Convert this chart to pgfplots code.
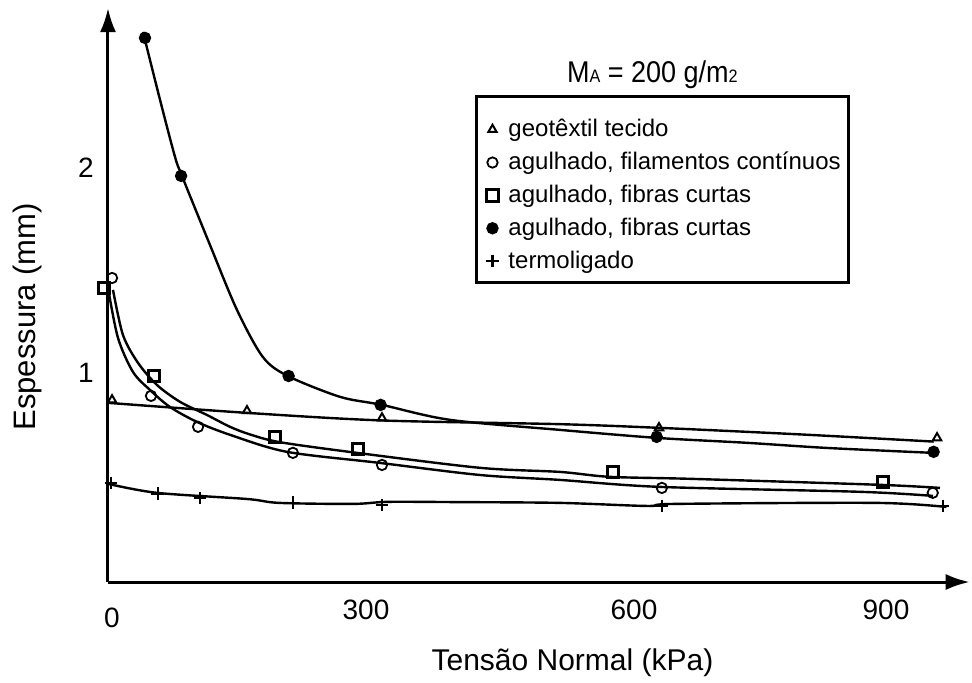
\documentclass[border=0pt]{standalone}
\usepackage{fontspec}
\setmainfont{Liberation Sans}
\usepackage{pgfplots}
\pgfplotsset{compat=1.18}
\usetikzlibrary{arrows.meta}
\begin{document}
\begin{tikzpicture}
\useasboundingbox (-54pt,-50pt) rectangle (432pt,291pt);
\begin{axis}[
  at={(0pt,0pt)}, anchor=south west,
  scale only axis, width=430.86pt, height=287pt,
  xmin=0, xmax=1002, ymin=-0.02, ymax=2.78,
  axis lines=left,
  axis line style={line width=1.5pt, -{Latex[length=12pt,width=8pt]}},
  major tick length=0pt,
  xtick={0,300,600,900},
  xticklabels={\raisebox{-4pt}[\height][\depth]{\kern4pt 0},300,\kern10pt 600,\kern4pt 900},
  ytick={1,2},
  /pgf/number format/assume math mode=true,
  ticklabel style={font=\fontsize{14}{16}\selectfont},
  xticklabel style={anchor=north, inner sep=0pt, yshift=-9pt},
  yticklabel style={anchor=east, inner sep=0pt, xshift=-7pt},
  xlabel={Tensão Normal (kPa)},
  ylabel={Espessura (mm)},
  label style={font=\fontsize{15}{18}\selectfont},
  xlabel style={at={(axis description cs:0.539,-0.141)}, anchor=center},
  ylabel style={at={(axis description cs:-0.094,0.462)}, anchor=center, font=\fontsize{15.5}{18}\selectfont},
  clip=false,
  legend style={at={(axis cs:428,2.317)}, anchor=north west, draw=none, fill=none,
    font=\fontsize{12}{14}\selectfont, inner xsep=2pt, inner ysep=6pt, row sep=2.2pt,
    cells={anchor=west}},
  legend image code/.code={\path[draw=none,fill=none] (-6pt,0pt) (6pt,0pt);
    \draw[mark repeat=2,mark phase=2,#1] plot coordinates {(-1pt,0pt)(0pt,0pt)(1pt,0pt)};},
]
% markers
\addplot[black, only marks, mark=triangle, mark size=2.4pt, line width=1pt]
  coordinates {(4.7,0.868) (161.6,0.815) (318.6,0.780) (640.7,0.732) (964,0.683)};
\addlegendentry{geotêxtil tecido}
\addplot[black, only marks, mark=o, mark size=2.6pt, line width=0.9pt]
  coordinates {(4.7,1.463) (50,0.888) (104.7,0.737) (215,0.610) (318.6,0.551) (644,0.439) (959,0.415)};
\addlegendentry{agulhado, filamentos contínuos}
\addplot[black, only marks, mark=square, mark size=2.8pt, line width=1.5pt]
  coordinates {(-4.7,1.415) (53.5,0.985) (194,0.688) (290.7,0.629) (587,0.517) (901,0.468)};
\addlegendentry{agulhado, fibras curtas}
\addplot[black, only marks, mark=*, mark size=2.7pt, line width=0.8pt]
  coordinates {(43,2.634) (85,1.961) (210,0.985) (317,0.844) (638,0.688) (960,0.615)};
\addlegendentry{agulhado, fibras curtas}
\addplot[black, only marks, mark=+, mark size=3.2pt, line width=1.1pt]
  coordinates {(3.5,0.463) (58,0.410) (107,0.390) (215,0.366) (318.6,0.356) (644,0.351) (971,0.351)};
\addlegendentry{termoligado}
% curves
\addplot[black, line width=1.2pt, smooth, tension=0.5, forget plot]
  coordinates {(0,0.854) (162,0.805) (319,0.768) (525,0.75) (641,0.732) (805,0.70) (960,0.665)};
\addplot[black, line width=1.2pt, smooth, tension=0.5, forget plot]
  coordinates {(0,1.415) (11.6,1.171) (29,1.005) (48.8,0.917) (72,0.834) (103.5,0.761) (141.9,0.698) (208,0.615) (316,0.561) (432.6,0.502) (525.6,0.478) (641.9,0.444) (874.4,0.420) (959.3,0.400)};
\addplot[black, line width=1.2pt, smooth, tension=0.5, forget plot]
  coordinates {(5.8,1.405) (17.4,1.185) (34.9,1.049) (57,0.941) (83.7,0.859) (115,0.795) (141.9,0.737) (165,0.700) (200,0.662) (289.5,0.610) (432.6,0.537) (525.6,0.517) (583.7,0.493) (680,0.483) (897.7,0.454) (967.4,0.439)};
\addplot[black, line width=1.2pt, smooth, tension=0.5, forget plot]
  coordinates {(40.7,2.663) (60.5,2.332) (77.9,2.054) (86,1.961) (118.6,1.624) (150,1.307) (180,1.078) (209,0.985) (270,0.883) (318.6,0.844) (397.7,0.771) (525.6,0.722) (638.4,0.683) (743,0.659) (836,0.634) (959,0.610)};
\addplot[black, line width=1.2pt, smooth, tension=0.5, forget plot]
  coordinates {(0,0.459) (57,0.415) (161.6,0.385) (199,0.366) (285,0.361) (325,0.371) (400,0.37) (525,0.366) (627,0.351) (660,0.361) (893,0.366) (975,0.346)};
\draw[line width=1.5pt] (axis cs:428,2.346) rectangle (axis cs:860.5,1.439);
\node[font=\fontsize{15}{18}\selectfont, xscale=0.9] at (axis cs:633,2.454)
  {M{\fontsize{9}{9}\selectfont A} = 200 g/m{\fontsize{9}{9}\selectfont 2}};
\end{axis}
\end{tikzpicture}
\end{document}
